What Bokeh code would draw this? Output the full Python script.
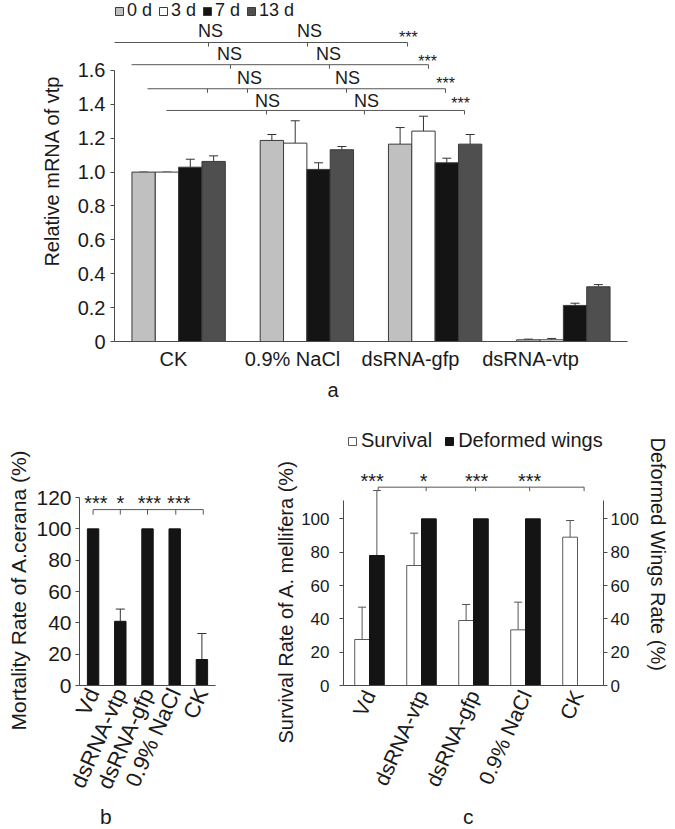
import numpy as np
from bokeh.plotting import figure
from bokeh.models import (ColumnDataSource, Whisker, TeeHead, Legend, LegendItem,
                          LinearAxis, FixedTicker, Range1d, FactorRange, Title,
                          NumeralTickFormatter, Div)
from bokeh.layouts import column, row
from bokeh.core.properties import value
from bokeh.embed import file_html
from bokeh.resources import INLINE

FONT = "Liberation Sans"
INK = "#1a1a1a"
AX = "#4a4a4a"

# ---------------- panel a data ----------------
a_groups = ["CK", "0.9% NaCl", "dsRNA-gfp", "dsRNA-vtp"]
a_days = ["0 d", "3 d", "7 d", "13 d"]
a_d0 = [1.000, 1.187, 1.165, 0.010]
a_d0_err = [0.000, 0.035, 0.098, 0.004]
a_d3 = [1.000, 1.171, 1.242, 0.010]
a_d3_err = [0.000, 0.132, 0.088, 0.008]
a_d7 = [1.029, 1.016, 1.055, 0.213]
a_d7_err = [0.047, 0.039, 0.027, 0.013]
a_d13 = [1.063, 1.132, 1.165, 0.323]
a_d13_err = [0.033, 0.019, 0.057, 0.013]
a_colors = ["#c0c0c0", "#ffffff", "#141414", "#4f4f4f"]
a_yticks = [0, 0.2, 0.4, 0.6, 0.8, 1.0, 1.2, 1.4, 1.6]

# significance brackets of panel a (annotation layout)
a_sig_y = [1.765, 1.634, 1.492, 1.364]
a_sig_x0 = [-0.047, 0.133, 0.257, 0.405]
a_sig_x1 = [2.285, 2.448, 2.581, 2.729]
a_sig_ticks = [[0.733, 1.505, 2.285], [0.904, 1.676, 2.448],
               [0.725, 1.037, 1.809, 2.581], [1.185, 1.949, 2.729]]
a_ns_x = [[0.749, 1.520], [0.897, 1.669], [1.053, 1.817], [1.193, 1.965]]
a_ns_y = [1.833, 1.697, 1.556, 1.420]
a_star_x = [2.292, 2.441, 2.581, 2.698]
a_star_y = [1.797, 1.655, 1.525, 1.407]
a_label_x = [0.46, 1.388, 2.308, 3.244]

# ---------------- panel b data ----------------
b_groups = ["Vd", "dsRNA-vtp", "dsRNA-gfp", "0.9% NaCl", "CK"]
b_mort = [100.0, 41.0, 100.0, 100.0, 16.6]
b_err = [0.0, 7.8, 0.0, 0.0, 16.6]
b_yticks = [0, 20, 40, 60, 80, 100, 120]
b_sig_y = 112.3
b_star_y = 116.4
b_sig_off = [0.0, 0.0, 0.0, 0.04, 0.05]
b_sig_text = ["***", "*", "***", "***"]
b_star_off = [0.1, 0.0, 0.07, 0.15]

# ---------------- panel c data ----------------
c_groups = ["Vd", "dsRNA-vtp", "dsRNA-gfp", "0.9% NaCl", "CK"]
c_surv = [27.6, 72.0, 39.0, 33.4, 89.0]
c_surv_err = [19.4, 19.4, 9.6, 16.6, 10.0]
c_def = [78.0, 100.0, 100.0, 100.0, 0.0]
c_def_err = [39.0, 0.0, 0.0, 0.0, 0.0]
c_yticks = [0, 20, 40, 60, 80, 100]
c_sig_y = 119.0
c_star_y = 122.6
c_sig_off = [0.167, 0.09, 0.04, 0.08, 0.127]
c_sig_text = ["***", "*", "***", "***"]
c_star_off = [0.05, 0.04, 0.06, 0.08]


def style(p, tick_size, label_size):
    p.xgrid.visible = False
    p.ygrid.visible = False
    p.outline_line_color = None
    p.background_fill_color = "white"
    p.border_fill_color = "white"
    for ax in p.axis:
        ax.axis_line_color = AX
        ax.major_tick_line_color = AX
        ax.minor_tick_line_color = None
        ax.major_tick_in = 0
        ax.major_tick_out = 4
        ax.major_label_text_font = FONT
        ax.major_label_text_font_size = tick_size
        ax.major_label_text_color = INK
        ax.axis_label_text_font = FONT
        ax.axis_label_text_font_size = label_size
        ax.axis_label_text_font_style = "normal"
        ax.axis_label_text_color = INK


def side_title(p, text, side, offset, size, standoff, align="left"):
    t = Title(text=text, align=align, offset=offset, text_font=FONT,
              text_font_size=size, text_font_style="normal", text_color=INK,
              standoff=standoff)
    p.add_layout(t, side)


# ======================= panel a =======================
pa = figure(width=675, height=405, x_range=Range1d(0, 4), y_range=Range1d(0, 2.013),
            output_backend="svg", toolbar_location=None,
            min_border_left=114, min_border_right=48, min_border_top=0,
            min_border_bottom=64)
style(pa, "20px", "20px")

a_x = np.arange(len(a_groups)) + 0.5
a_bar_w = 0.182
a_offsets = [-1.5, -0.5, 0.5, 1.5]
a_series = [(a_d0, a_d0_err), (a_d3, a_d3_err), (a_d7, a_d7_err), (a_d13, a_d13_err)]
a_rends = []
for k, (vals, errs) in enumerate(a_series):
    xs = a_x + a_offsets[k] * a_bar_w
    top = np.array(vals)
    src = ColumnDataSource(dict(x=xs, top=top, upper=top + np.array(errs)))
    r = pa.vbar(x="x", top="top", width=a_bar_w, source=src,
                fill_color=a_colors[k], line_color="#3a3a3a", line_width=1)
    pa.add_layout(Whisker(base="x", lower="top", upper="upper", source=src,
                          dimension="height", lower_head=None,
                          upper_head=TeeHead(size=9, line_color="#333333", line_width=1),
                          line_color="#333333", line_width=1))
    a_rends.append(r)

# brackets
pa.segment(x0=a_sig_x0, y0=a_sig_y, x1=a_sig_x1, y1=a_sig_y,
           line_color="#555555", line_width=1)
tx, ty0, ty1 = [], [], []
for y, ticks in zip(a_sig_y, a_sig_ticks):
    for t in ticks:
        tx.append(t)
        ty0.append(y)
        ty1.append(y - 0.024)
pa.segment(x0=tx, y0=ty0, x1=tx, y1=ty1, line_color="#555555", line_width=1)
nsx, nsy = [], []
for y, xs in zip(a_ns_y, a_ns_x):
    for x in xs:
        nsx.append(x)
        nsy.append(y)
pa.text(x=nsx, y=nsy, text=["NS"] * len(nsx), text_align="center",
        text_baseline="middle", text_font=value(FONT),
        text_font_size="18px", text_color=INK)
pa.text(x=a_star_x, y=a_star_y, text=["***"] * 4,
        text_align="center", text_baseline="middle", text_font=value(FONT),
        text_font_size="16px", text_color=INK)

leg_a = Legend(items=[LegendItem(label=d, renderers=[r]) for d, r in zip(a_days, a_rends)],
               orientation="horizontal", location="top_left", margin=0, padding=0,
               spacing=6, glyph_width=10, glyph_height=10, label_standoff=3,
               label_text_font=FONT, label_text_font_size="18px",
               label_text_color=INK, label_height=20,
               background_fill_alpha=0, border_line_alpha=0)
pa.add_layout(leg_a, "center")

pa.yaxis.ticker = FixedTicker(ticks=a_yticks)
pa.yaxis.bounds = (0, 1.6)
pa.yaxis.formatter = NumeralTickFormatter(format="0.0")
pa.yaxis.major_label_overrides = {0: "0"}
pa.yaxis.axis_label = "Relative mRNA of vtp"
pa.yaxis.axis_label_standoff = 12
pa.xaxis.ticker = FixedTicker(ticks=a_label_x)
pa.xaxis.major_label_overrides = dict(zip(a_label_x, a_groups))
pa.xaxis.major_tick_out = 0
pa.xaxis.major_label_standoff = 6
side_title(pa, "a", "below", 213, "20px", 8)

# ======================= panel b =======================
pb = figure(width=258, height=400, x_range=FactorRange(*b_groups),
            y_range=Range1d(0, 166.0), output_backend="svg", toolbar_location=None,
            min_border_left=71, min_border_right=43, min_border_top=20,
            min_border_bottom=120)
style(pb, "21px", "21px")
src_b = ColumnDataSource(dict(x=b_groups, top=b_mort))
pb.vbar(x="x", top="top", width=0.42, source=src_b, fill_color="#141414",
        line_color="#141414")
eb = [i for i, e in enumerate(b_err) if e > 0]
src_be = ColumnDataSource(dict(x=[b_groups[i] for i in eb], lo=[b_mort[i] for i in eb],
                               up=[b_mort[i] + b_err[i] for i in eb]))
pb.add_layout(Whisker(base="x", lower="lo", upper="up", source=src_be, dimension="height",
                      lower_head=None, upper_head=TeeHead(size=9, line_color="#333333"),
                      line_color="#333333"))
bx = [(g, o) for g, o in zip(b_groups, b_sig_off)]
pb.segment(x0=[bx[0]], y0=[b_sig_y], x1=[bx[-1]], y1=[b_sig_y], line_color="#555555")
pb.segment(x0=bx, y0=[b_sig_y] * 5, x1=bx, y1=[b_sig_y - 3.2] * 5, line_color="#555555")
pb.text(x=[(g, o) for g, o in zip(b_groups[:4], b_star_off)], y=[b_star_y] * 4,
        text=b_sig_text, text_align="center", text_baseline="middle",
        text_font=value(FONT), text_font_size="20px", text_color=INK)
pb.yaxis.ticker = FixedTicker(ticks=b_yticks)
pb.yaxis.bounds = (0, 120)
pb.yaxis.major_label_standoff = 4
pb.xaxis.major_tick_out = 0
pb.xaxis.major_label_orientation = 1.15
pb.xaxis.major_label_standoff = 4
pb.xaxis.major_label_text_font_size = "22px"
side_title(pb, "Mortality Rate of A.cerana (%)", "left", -45, "21px", 8)

# ======================= panel c =======================
pc = figure(width=417, height=400, x_range=FactorRange(*c_groups),
            y_range=Range1d(0, 156.0), output_backend="svg", toolbar_location=None,
            min_border_left=85, min_border_right=68, min_border_top=20,
            min_border_bottom=120)
c_w = 0.284
src_cs = ColumnDataSource(dict(x=[(g, -c_w / 2) for g in c_groups], top=c_surv))
src_cd = ColumnDataSource(dict(x=[(g, c_w / 2) for g in c_groups], top=c_def))
r_s = pc.vbar(x="x", top="top", width=c_w, source=src_cs, fill_color="white",
              line_color="#5a5a5a", line_width=1)
r_d = pc.vbar(x="x", top="top", width=c_w, source=src_cd, fill_color="#141414",
              line_color="#141414", line_width=1)
es = [i for i, e in enumerate(c_surv_err) if e > 0]
src_cse = ColumnDataSource(dict(x=[(c_groups[i], -c_w / 2) for i in es],
                                lo=[c_surv[i] for i in es],
                                up=[c_surv[i] + c_surv_err[i] for i in es]))
ed = [i for i, e in enumerate(c_def_err) if e > 0]
src_cde = ColumnDataSource(dict(x=[(c_groups[i], c_w / 2) for i in ed],
                                lo=[c_def[i] for i in ed],
                                up=[c_def[i] + c_def_err[i] for i in ed]))
for s in (src_cse, src_cde):
    pc.add_layout(Whisker(base="x", lower="lo", upper="up", source=s, dimension="height",
                          lower_head=None, upper_head=TeeHead(size=8, line_color="#555555"),
                          line_color="#555555"))
cx = [(g, o) for g, o in zip(c_groups, c_sig_off)]
pc.segment(x0=[cx[0]], y0=[c_sig_y], x1=[cx[-1]], y1=[c_sig_y], line_color="#555555")
pc.segment(x0=cx, y0=[c_sig_y] * 5, x1=cx, y1=[c_sig_y - 2.4] * 5, line_color="#555555")
pc.text(x=[(g, o) for g, o in zip(c_groups[:4], c_star_off)], y=[c_star_y] * 4,
        text=c_sig_text, text_align="center", text_baseline="middle",
        text_font=value(FONT), text_font_size="20px", text_color=INK)

leg_c = Legend(items=[LegendItem(label="Survival", renderers=[r_s]),
                      LegendItem(label="Deformed wings", renderers=[r_d])],
               orientation="horizontal", location="top_left", margin=4, padding=0,
               spacing=12, glyph_width=10, glyph_height=10, label_standoff=4,
               label_text_font=FONT, label_text_font_size="20px",
               label_text_color=INK, label_height=20,
               background_fill_alpha=0, border_line_alpha=0)
pc.add_layout(leg_c, "center")

pc.add_layout(LinearAxis(), "right")
style(pc, "17px", "19px")
for ax in pc.yaxis:
    ax.ticker = FixedTicker(ticks=c_yticks)
    ax.bounds = (0, 111)
pc.yaxis[0].major_label_standoff = 10
pc.yaxis[1].major_label_standoff = 3
pc.xaxis.major_tick_out = 0
pc.xaxis.major_label_orientation = 1.15
pc.xaxis.major_label_standoff = 6
pc.xaxis.major_label_text_font_size = "21px"
side_title(pc, "Survival Rate of A. mellifera (%)", "left", -58, "20px", 3)
side_title(pc, "Deformed Wings Rate (%)", "right", 12, "20px", 10)

captions = Div(
    text=('<div style="position:relative;width:675px;height:24px;'
          'font-family:\'Liberation Sans\';font-size:21px;line-height:24px;color:#1a1a1a">'
          '<span style="position:absolute;left:100px;top:0">b</span>'
          '<span style="position:absolute;left:463px;top:0">c</span></div>'),
    width=675, height=24, margin=0)

layout = column(pa, row(pb, pc), captions)
open("out.html", "w").write(file_html(layout, INLINE))
